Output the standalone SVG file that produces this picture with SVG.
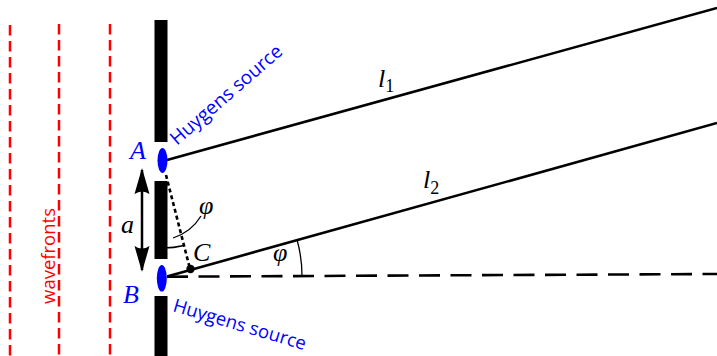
<svg xmlns="http://www.w3.org/2000/svg" width="717" height="356" viewBox="0 0 717 356">
<style>
.wf{stroke:#ff0000;stroke-width:2.5;stroke-dasharray:10.5 5.5;fill:none}
.ln{stroke:#000;stroke-width:2.6;fill:none}
.thin{stroke:#000;stroke-width:1.3;fill:none}
.math{font-family:"Liberation Serif","DejaVu Serif",serif;font-style:italic;font-size:26px}
.sub{font-size:18px;font-style:normal}
.sans{font-family:"Open Sans","Noto Sans",sans-serif}
.blue{fill:#0000ff}
</style>
<defs>
<marker id="arr" viewBox="0 0 26 16" refX="24" refY="8" markerWidth="26" markerHeight="16" markerUnits="userSpaceOnUse" orient="auto-start-reverse">
<path d="M0,0.5 Q5,8 0,15.5 L26,8 Z" fill="#000"/>
</marker>
</defs>
<rect width="717" height="356" fill="#fff"/>
<g id="wavefronts">
<line class="wf" x1="10" y1="25" x2="10" y2="356"/>
<line class="wf" x1="59" y1="24" x2="59" y2="356"/>
<line class="wf" x1="110" y1="24" x2="110" y2="356"/>
<text class="sans" x="0" y="0" font-size="18.5" fill="#ff0000" text-anchor="middle" transform="translate(55,256) rotate(-90)">wavefronts</text>
</g>
<g id="barrier">
<rect x="154.5" y="20" width="13" height="122" fill="#000"/>
<rect x="154.5" y="181" width="13" height="78" fill="#000"/>
<rect x="154.5" y="296" width="13" height="60" fill="#000"/>
</g>
<g id="connectors">
<line class="ln" x1="167" y1="160" x2="717" y2="8"/>
<line class="ln" x1="167" y1="276.5" x2="717" y2="123"/>
<line class="ln" x1="167" y1="276.7" x2="717" y2="274" stroke-dasharray="21 10.5"/>
<line class="ln" x1="166" y1="175" x2="190" y2="269" stroke-dasharray="4 3"/>
<line x1="142" y1="170" x2="142" y2="270" stroke="#000" stroke-width="2.5" marker-start="url(#arr)" marker-end="url(#arr)"/>
<path class="thin" d="M163,248 A88,88 0 0 0 184,245.5"/>
<path class="thin" d="M173,238 C185,234 195,226 201,216"/>
<path class="thin" d="M297.1,240 A135,135 0 0 1 302,276"/>
</g>
<g id="sourceA">
<ellipse cx="162.5" cy="160.5" rx="5" ry="12.5" fill="#0000ff"/>
<text class="math blue" x="130" y="159">A</text>
<text class="sans blue" x="0" y="0" font-size="19" transform="translate(177,146) rotate(-41)">Huygens source</text>
</g>
<g id="sourceB">
<ellipse cx="161.8" cy="278.3" rx="5" ry="13.3" fill="#0000ff"/>
<text class="math blue" x="123" y="303">B</text>
<text class="sans blue" x="0" y="0" font-size="18.5" transform="translate(172,311) rotate(16.5)">Huygens source</text>
</g>
<g id="pointC">
<circle cx="190.5" cy="269" r="4.2" fill="#000"/>
<text class="math" x="193" y="261">C</text>
</g>
<g id="labels">
<text class="math" x="121" y="233">a</text>
<text class="math" x="199" y="214">φ</text>
<text class="math" x="273" y="261">φ</text>
<text class="math" x="378" y="87">l<tspan class="sub" dy="5">1</tspan></text>
<text class="math" x="423" y="188">l<tspan class="sub" dy="6">2</tspan></text>
</g>
</svg>
